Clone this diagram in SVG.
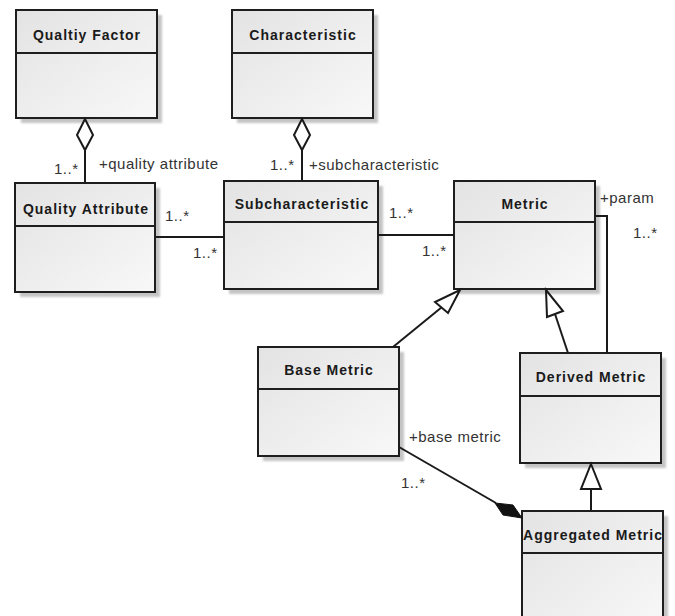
<svg xmlns="http://www.w3.org/2000/svg" width="675" height="616" viewBox="0 0 675 616">
  <defs>
    <linearGradient id="boxFill" x1="0" y1="0" x2="1" y2="1">
      <stop offset="0" stop-color="#e3e3e3"/>
      <stop offset="1" stop-color="#f8f8f8"/>
    </linearGradient>
    <filter id="soft" x="-10%" y="-10%" width="130%" height="130%">
      <feGaussianBlur stdDeviation="1.2"/>
    </filter>
    <style>
      .shadow { fill: #c4c4c4; filter: url(#soft); }
      .box { fill: url(#boxFill); stroke: #1e1e1e; stroke-width: 2; }
      .sep { stroke: #1e1e1e; stroke-width: 2; }
      .title { font-family: "Liberation Sans", Arial, sans-serif; font-size: 14px; font-weight: bold; fill: #1a1a1a; letter-spacing: 1px; text-anchor: middle; }
      .lbl { font-family: "Liberation Sans", Arial, sans-serif; font-size: 15px; fill: #333; letter-spacing: 0.5px; }
      .edge { fill: none; stroke: #1a1a1a; stroke-width: 2; }
      .hollow { fill: #fff; stroke: #1a1a1a; stroke-width: 2; stroke-linejoin: miter; }
      .solid { fill: #111; stroke: #111; stroke-width: 1; }
    </style>
  </defs>
  <rect width="675" height="616" fill="#ffffff"/>

  <!-- classes -->
  <g id="qualtiy-factor">
    <rect class="shadow" x="21" y="15" width="141" height="108"/>
    <rect class="box" x="16" y="10" width="141" height="108"/>
    <line class="sep" x1="16" y1="53" x2="157" y2="53"/>
    <text class="title" x="87" y="40">Qualtiy Factor</text>
  </g>

  <g id="characteristic">
    <rect class="shadow" x="237" y="15" width="141" height="108"/>
    <rect class="box" x="232" y="10" width="141" height="108"/>
    <line class="sep" x1="232" y1="53" x2="373" y2="53"/>
    <text class="title" x="303" y="40">Characteristic</text>
  </g>

  <g id="quality-attribute">
    <rect class="shadow" x="20" y="188" width="140" height="109"/>
    <rect class="box" x="15" y="183" width="140" height="109"/>
    <line class="sep" x1="15" y1="226" x2="155" y2="226"/>
    <text class="title" x="86" y="214">Quality Attribute</text>
  </g>

  <g id="subcharacteristic">
    <rect class="shadow" x="229" y="186" width="154" height="108"/>
    <rect class="box" x="224" y="181" width="154" height="108"/>
    <line class="sep" x1="224" y1="222" x2="378" y2="222"/>
    <text class="title" x="302" y="209">Subcharacteristic</text>
  </g>

  <g id="metric">
    <rect class="shadow" x="459" y="186" width="141" height="108"/>
    <rect class="box" x="454" y="181" width="141" height="108"/>
    <line class="sep" x1="454" y1="222" x2="595" y2="222"/>
    <text class="title" x="525" y="209">Metric</text>
  </g>

  <g id="base-metric">
    <rect class="shadow" x="263" y="352" width="141" height="109"/>
    <rect class="box" x="258" y="347" width="141" height="109"/>
    <line class="sep" x1="258" y1="389" x2="399" y2="389"/>
    <text class="title" x="329" y="375">Base Metric</text>
  </g>

  <g id="derived-metric">
    <rect class="shadow" x="525" y="358" width="141" height="110"/>
    <rect class="box" x="520" y="353" width="141" height="110"/>
    <line class="sep" x1="520" y1="396" x2="661" y2="396"/>
    <text class="title" x="591" y="382">Derived Metric</text>
  </g>

  <g id="aggregated-metric">
    <rect class="shadow" x="527" y="516" width="141" height="120"/>
    <rect class="box" x="522" y="511" width="141" height="120"/>
    <line class="sep" x1="522" y1="553" x2="663" y2="553"/>
    <text class="title" x="593" y="540">Aggregated Metric</text>
  </g>

  <!-- connectors -->
  <g id="connectors">
    <!-- aggregation: Qualtiy Factor / Quality Attribute -->
    <line class="edge" x1="85" y1="150" x2="85" y2="183"/>
    <polygon class="hollow" points="85,119 93,135 85,150 77,135"/>
    <!-- aggregation: Characteristic / Subcharacteristic -->
    <line class="edge" x1="302" y1="150" x2="302" y2="181"/>
    <polygon class="hollow" points="302,119 310,135 302,150 294,135"/>
    <!-- associations -->
    <line class="edge" x1="155" y1="237" x2="224" y2="237"/>
    <line class="edge" x1="378" y1="235" x2="454" y2="235"/>
    <polyline class="edge" points="595,216 607,216 607,353"/>
    <!-- generalization: Base Metric -> Metric -->
    <line class="edge" x1="393" y1="347" x2="442" y2="307"/>
    <polygon class="hollow" points="460,290 448,313 435,302"/>
    <!-- generalization: Derived Metric -> Metric -->
    <line class="edge" x1="568" y1="353" x2="555" y2="314"/>
    <polygon class="hollow" points="546,290 563,311 547,317"/>
    <!-- generalization: Aggregated Metric -> Derived Metric -->
    <line class="edge" x1="591" y1="489" x2="591" y2="511"/>
    <polygon class="hollow" points="591,464 601,489 581,489"/>
    <!-- composition: Aggregated Metric owns Base Metric -->
    <line class="edge" x1="399" y1="447" x2="496" y2="503"/>
    <polygon class="solid" points="495,503 513,505 522,518 503,515"/>
  </g>

  <!-- role names and multiplicities -->
  <g id="labels">
    <text class="lbl" x="54" y="174">1..*</text>
    <text class="lbl" x="99" y="169">+quality attribute</text>
    <text class="lbl" x="270" y="170">1..*</text>
    <text class="lbl" x="309" y="170">+subcharacteristic</text>
    <text class="lbl" x="165" y="221">1..*</text>
    <text class="lbl" x="193" y="258">1..*</text>
    <text class="lbl" x="389" y="218">1..*</text>
    <text class="lbl" x="422" y="256">1..*</text>
    <text class="lbl" x="600" y="203">+param</text>
    <text class="lbl" x="633" y="238">1..*</text>
    <text class="lbl" x="409" y="442">+base metric</text>
    <text class="lbl" x="401" y="488">1..*</text>
  </g>
</svg>
